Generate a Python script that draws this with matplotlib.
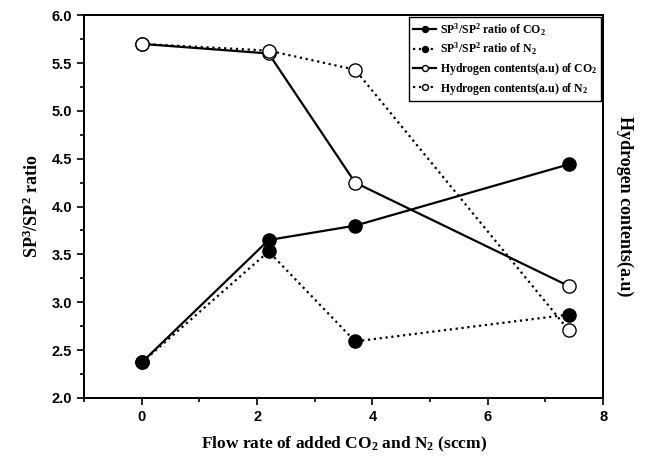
import matplotlib
matplotlib.use("Agg")
import matplotlib.pyplot as plt
from matplotlib.ticker import MultipleLocator

# flow rate of added gas (sccm)
flow = [0, 2.2, 3.7, 7.4]

# SP3/SP2 ratio
ratio_co2 = [2.37, 3.65, 3.80, 4.44]
ratio_n2 = [2.37, 3.53, 2.59, 2.87]

# hydrogen contents (a.u), drawn on the right axis
hyd_co2 = [5.70, 5.60, 4.25, 3.17]
hyd_n2 = [5.70, 5.63, 5.43, 2.71]

plt.rcParams["mathtext.fontset"] = "custom"
plt.rcParams["mathtext.rm"] = "Liberation Serif:bold"
plt.rcParams["mathtext.it"] = "Liberation Serif:bold"
plt.rcParams["mathtext.bf"] = "Liberation Serif:bold"

serif = {"family": "Liberation Serif", "weight": "bold"}

fig = plt.figure(figsize=(6.52, 4.61), dpi=100)
ax = fig.add_axes([0.129, 0.137, 0.796, 0.830])
ax2 = ax.twinx()

ms = 9.5
lw = 1.6
l1, = ax.plot(flow, ratio_co2, "-o", color="black", lw=lw, ms=ms,
              label="SP$^3$/SP$^2$ ratio of CO$_2$")
l2, = ax.plot(flow, ratio_n2, ":o", color="black", lw=lw, ms=ms,
              label="SP$^3$/SP$^2$ ratio of N$_2$")
l3, = ax2.plot(flow, hyd_co2, "-o", color="black", lw=lw, ms=ms,
               mfc="white", mec="black", mew=1.0,
               label="Hydrogen contents(a.u) of CO$_2$")
l4, = ax2.plot(flow, hyd_n2, ":o", color="black", lw=lw, ms=ms,
               mfc="white", mec="black", mew=1.0,
               label="Hydrogen contents(a.u) of N$_2$")

for a in (ax, ax2):
    a.set_xlim(-1, 8)
    a.set_ylim(2.0, 6.0)

ax.xaxis.set_major_locator(MultipleLocator(2))
ax.xaxis.set_minor_locator(MultipleLocator(1))
ax.yaxis.set_major_locator(MultipleLocator(0.5))
ax.yaxis.set_minor_locator(MultipleLocator(0.25))
ax.tick_params(which="both", direction="out", top=False, right=False,
               width=1.2)
ax.tick_params(which="major", length=5)
ax.tick_params(which="minor", length=3)
ax.yaxis.set_major_formatter(plt.FormatStrFormatter("%.1f"))
for lab in ax.get_xticklabels() + ax.get_yticklabels():
    lab.set_fontfamily("Liberation Sans")
    lab.set_fontweight("bold")
    lab.set_fontsize(10.5)

ax2.set_yticks([])
for a in (ax, ax2):
    for s in a.spines.values():
        s.set_linewidth(1.3)

ax.set_xlabel("Flow rate of added CO$_2$ and N$_2$ (sccm)", fontdict=serif,
              fontsize=12.5, labelpad=8)
ax.set_ylabel("SP$^3$/SP$^2$ ratio", fontdict=serif, fontsize=13,
              labelpad=7)
ax2.set_ylabel("Hydrogen contents(a.u)", fontdict=serif, fontsize=13,
               rotation=270, labelpad=22)

leg = ax2.legend(handles=[l1, l2, l3, l4], loc="upper right",
                 prop={"family": "Liberation Serif", "weight": "bold",
                       "size": 8.5}, frameon=True, fancybox=False,
                 framealpha=1, edgecolor="black", handlelength=2.0,
                 handletextpad=0.3, borderpad=0.35, labelspacing=0.3,
                 borderaxespad=0.15, markerscale=0.45)
leg.get_frame().set_linewidth(1.0)

fig.savefig("out.png", dpi=100)
